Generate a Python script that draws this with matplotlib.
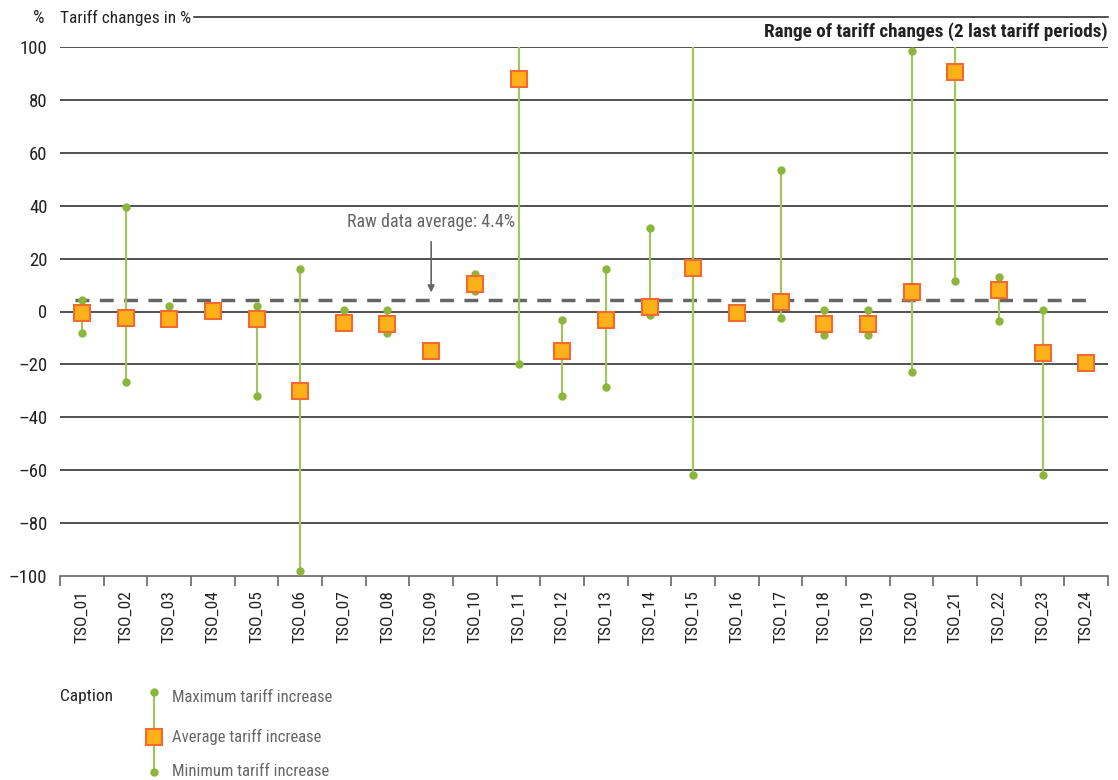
import matplotlib
matplotlib.use("Agg")
import matplotlib.pyplot as plt
from matplotlib.lines import Line2D
import numpy as np

plt.rcParams['font.family'] = ['Roboto Condensed', 'Liberation Sans Narrow', 'DejaVu Sans']

tso = [f"TSO_{i:02d}" for i in range(1, 25)]

# values (None = no separate min/max point)
max_inc = [4.5, 39.5, 2, None, 2, 16, 0.5, 0.5, None, 14, 150, -3.3,
           16, 31.5, 150, None, 53.5, 0.5, 0.5, 98.5, 150, 13, 0.5, None]
avg_inc = [-0.5, -2.6, -2.7, 0.3, -2.7, -30, -4.3, -4.9, -14.8, 10.5, 88, -14.8,
           -3.4, 1.8, 16.5, -0.4, 3.7, -4.6, -4.6, 7.4, 90.5, 8.2, -15.8, -19.3]
min_inc = [-8, -26.5, None, None, -31.8, -98, None, -8.3, None, 7.7, -19.7, -32,
           -28.7, -1.2, -62, None, -2.3, -8.8, -8.8, -22.7, 11.7, -3.7, -62, None]
raw_avg = 4.4

green = "#8db53c"
line_green = "#a2c55e"
sq_face = "#fbb117"
sq_edge = "#f26a30"
dark = "#222222"
grey = "#666666"

fig = plt.figure(figsize=(11.18, 7.8), dpi=100)
ax = fig.add_axes([60 / 1118, 1 - 576 / 780, 1048 / 1118, 529 / 780])

x = np.arange(len(tso))

for i in range(len(tso)):
    hi = max_inc[i] if max_inc[i] is not None else avg_inc[i]
    lo = min_inc[i] if min_inc[i] is not None else avg_inc[i]
    ax.plot([x[i], x[i]], [lo, hi], color=line_green, lw=1.6, zorder=3)
    if max_inc[i] is not None and max_inc[i] <= 100:
        ax.plot(x[i], max_inc[i], "o", color=green, ms=5, zorder=4)
    if min_inc[i] is not None:
        ax.plot(x[i], min_inc[i], "o", color=green, ms=5, zorder=4)

ax.plot(x, avg_inc, "s", ms=11, markerfacecolor=sq_face, markeredgecolor=sq_edge,
        markeredgewidth=1.5, linestyle="none", zorder=5)

ax.plot([-0.15, 23.1], [raw_avg, raw_avg], color=grey, lw=2.5,
        dashes=(4, 3), zorder=2)
ax.annotate("Raw data average: 4.4%", xy=(8, 7.2), xytext=(8, 34),
            ha="center", va="center", fontsize=13, color=grey,
            arrowprops=dict(arrowstyle="-|>", color=grey, lw=1.2,
                            mutation_scale=10, shrinkA=6, shrinkB=0))

ax.set_xlim(-0.5, 23.5)
ax.set_ylim(-100, 100)
ax.set_yticks(np.arange(-100, 101, 20))
ax.set_yticklabels([str(v).replace("-", "\u2013") for v in range(-100, 101, 20)])
for v in range(-80, 101, 20):
    ax.axhline(v, color=dark, lw=1.1, zorder=1)

ax.set_xticks(x)
ax.set_xticklabels(tso, rotation=90, fontsize=12.5, color=dark)
ax.set_xticks(np.arange(-0.5, 24, 1), minor=True)
ax.tick_params(axis="x", which="major", length=0, pad=10)
ax.tick_params(axis="x", which="minor", length=7, color=grey, width=1.2)
ax.tick_params(axis="y", length=0, labelsize=13.5, colors=dark, pad=9)

for s in ["top", "right", "left"]:
    ax.spines[s].set_visible(False)
ax.spines["bottom"].set_color(grey)
ax.spines["bottom"].set_linewidth(1.2)

# header
fig.text(33 / 1118, 1 - 18 / 780, "%", fontsize=13, color=dark, ha="left", va="center")
fig.text(60 / 1118, 1 - 18 / 780, "Tariff changes in %", fontsize=12.5,
         color=dark, ha="left", va="center")
fig.add_artist(Line2D([194 / 1118, 1108 / 1118], [1 - 17 / 780, 1 - 17 / 780],
                      color=dark, lw=1.1, transform=fig.transFigure))
fig.text(1108 / 1118, 1 - 32 / 780, "Range of tariff changes (2 last tariff periods)",
         fontsize=13.8, fontweight="bold", color=dark, ha="right", va="center")

# legend
fig.text(60 / 1118, 1 - 697 / 780, "Caption", fontsize=12.5, color=dark,
         ha="left", va="center")
fig.add_artist(Line2D([154 / 1118, 154 / 1118], [1 - 692 / 780, 1 - 772 / 780],
                      color=line_green, lw=1.6, transform=fig.transFigure))
fig.add_artist(Line2D([154 / 1118], [1 - 692 / 780], marker="o", color=green, ms=5,
                      transform=fig.transFigure))
fig.add_artist(Line2D([154 / 1118], [1 - 772 / 780], marker="o", color=green, ms=5,
                      transform=fig.transFigure))
fig.add_artist(Line2D([154 / 1118], [1 - 737 / 780], marker="s", ms=11,
                      markerfacecolor=sq_face, markeredgecolor=sq_edge,
                      markeredgewidth=1.5, transform=fig.transFigure))
for yy, lab in [(697, "Maximum tariff increase"), (737, "Average tariff increase"),
                (772, "Minimum tariff increase")]:
    fig.text(172 / 1118, 1 - yy / 780, lab, fontsize=12, color=grey,
             ha="left", va="center")

fig.savefig("out.png", dpi=100)
